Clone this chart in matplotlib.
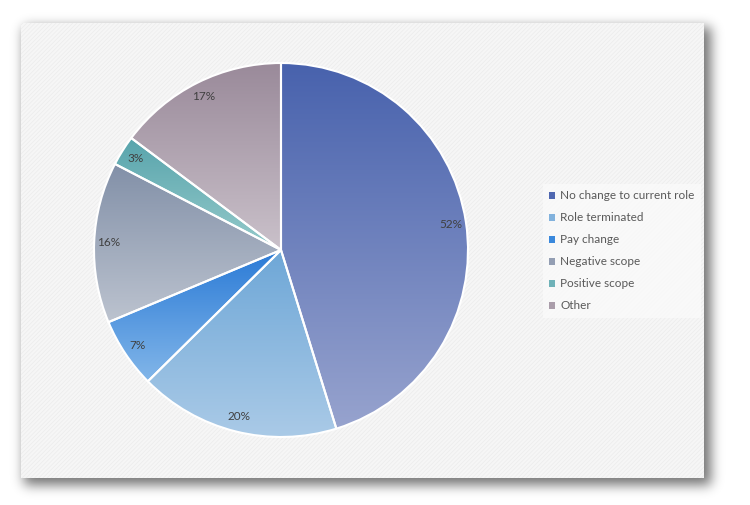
import numpy as np
import matplotlib
matplotlib.use("Agg")
from matplotlib import pyplot as plt
from matplotlib.patches import Rectangle, Patch

# Slice values (the labels show these numbers)
categories = ["No change to current role", "Role terminated", "Pay change",
              "Negative scope", "Positive scope", "Other"]
values = [52, 20, 7, 16, 3, 17]

# Gradient colours per slice: (top, bottom)
grad_top = ["#4862ad", "#6ea7d7", "#2a7ad6", "#8290a8", "#58a4ac", "#9a8a9a"]
grad_bot = ["#97a3ce", "#aacae7", "#82b6e9", "#bcc3cf", "#96cbcb", "#cac1ca"]
legend_colors = ["#4f67b0", "#82b2dd", "#3a88dc", "#939eb3", "#6fb2b8", "#aa9daa"]

plt.rcParams["hatch.linewidth"] = 0.5
plt.rcParams["hatch.color"] = "#ececec"

W, H = 750, 505
fig = plt.figure(figsize=(W / 100, H / 100), dpi=100)
fig.patch.set_facecolor("white")

# Background: soft drop shadow and the chart frame
bg = fig.add_axes([0, 0, 1, 1])
bg.set_xlim(0, W)
bg.set_ylim(H, 0)
bg.axis("off")

mask = np.zeros((H, W))
mask[27:485, 24:711] = 1.0
sig = 6.0
k = np.exp(-0.5 * (np.arange(-20, 21) / sig) ** 2)
k /= k.sum()
blur = np.apply_along_axis(lambda m: np.convolve(m, k, mode="same"), 1, mask)
blur = np.apply_along_axis(lambda m: np.convolve(m, k, mode="same"), 0, blur)
shadow = np.zeros((H, W, 4))
shadow[..., 3] = blur * 0.55
bg.imshow(shadow, extent=[0, W, H, 0], interpolation="bilinear", zorder=0)

bg.add_patch(Rectangle((21, 23), 683, 455, facecolor="#f6f6f6",
                       edgecolor="none", zorder=1))
bg.add_patch(Rectangle((21, 23), 683, 455, facecolor="none",
                       edgecolor="#ececec", hatch="////////", linewidth=0, zorder=1.5))

# Pie axes: centre (281, 250), radius 187 px
cx, cy, r = 281, 250, 187
ax = fig.add_axes([(cx - r) / W, (H - cy - r) / H, 2 * r / W, 2 * r / H])
ax.axis("off")
wedges, _ = ax.pie(values, startangle=90, counterclock=False,
                   wedgeprops=dict(edgecolor="white", linewidth=1.5))

for i, w in enumerate(wedges):
    ext = w.get_path().get_extents()
    n = 256
    t = np.linspace(0, 1, n)[:, None]
    c0 = np.array(matplotlib.colors.to_rgb(grad_top[i]))
    c1 = np.array(matplotlib.colors.to_rgb(grad_bot[i]))
    img = (c0 * (1 - t) + c1 * t)[:, None, :]
    im = ax.imshow(img, extent=[ext.x0, ext.x1, ext.y0, ext.y1], origin="upper",
                   aspect="auto", interpolation="bilinear", zorder=1)
    im.set_clip_path(w)
    w.set_facecolor("none")
    w.set_zorder(2)

    mid = np.deg2rad((w.theta1 + w.theta2) / 2)
    ax.text(0.92 * np.cos(mid), 0.92 * np.sin(mid), f"{values[i]}%",
            ha="center", va="center", fontsize=8.5, color="#404040",
            family="Lato", zorder=3)

ax.set_xlim(-1, 1)
ax.set_ylim(-1, 1)

# Legend
handles = [Patch(facecolor=c, edgecolor="none") for c in legend_colors]
leg = fig.legend(handles, categories, loc="upper left",
                 bbox_to_anchor=(543 / W, 1 - 184 / H),
                 frameon=True, fancybox=False, prop={"family": "Lato", "size": 8.5},
                 handlelength=0.5, handleheight=0.5, handletextpad=0.4,
                 labelspacing=0.93, borderpad=0.55, borderaxespad=0)
leg.get_frame().set_facecolor("#fafafa")
leg.get_frame().set_edgecolor("none")
for txt in leg.get_texts():
    txt.set_color("#595959")

fig.savefig("out.png", dpi=100, facecolor="white")
